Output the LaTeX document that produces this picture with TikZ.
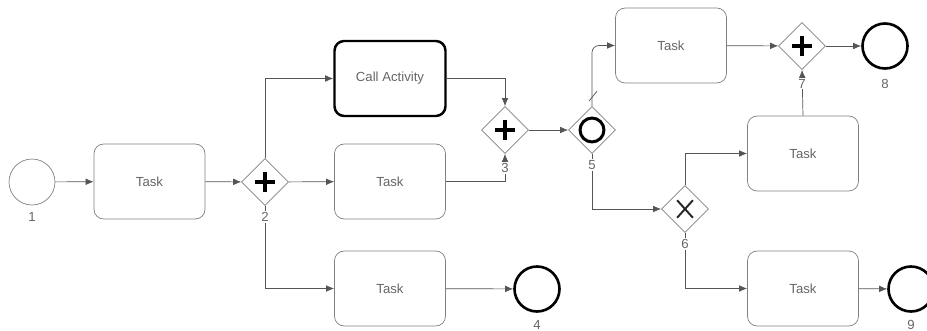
\documentclass[tikz,border=0pt]{standalone}
\usepackage{fontspec}
\setmainfont{Liberation Sans}
\usetikzlibrary{shapes.geometric,arrows.meta,positioning,calc}

\definecolor{edgegray}{HTML}{808080}
\definecolor{linegray}{HTML}{555555}
\definecolor{textgray}{HTML}{666666}

\tikzset{
  task/.style={draw=edgegray, rounded corners=5.5pt, minimum width=2.22cm,
    minimum height=1.5cm, text=textgray, font=\fontsize{7.5}{9}\selectfont},
  callact/.style={task, draw=black, line width=1.4pt},
  startev/.style={circle, draw=edgegray, minimum size=0.92cm, inner sep=0pt},
  endev/.style={startev, draw=black, line width=1.5pt, minimum size=0.9cm},
  gw/.style={diamond, draw=edgegray, minimum size=0.94cm, inner sep=0pt},
  gwplus/.style={gw, path picture={
    \draw[black, line width=2.4pt] ($(path picture bounding box.center)+(-5.6pt,0)$) -- ++(11.2pt,0);
    \draw[black, line width=2.4pt] ($(path picture bounding box.center)+(0,-5.6pt)$) -- ++(0,11.2pt);}},
  gwring/.style={gw, path picture={
    \draw[black, line width=1.7pt] (path picture bounding box.center) circle (6.8pt);}},
  gwcross/.style={gw, path picture={
    \draw[black!85, line width=1.1pt] ($(path picture bounding box.center)+(-4.5pt,-5pt)$) -- ++(9pt,10pt);
    \draw[black!85, line width=1.1pt] ($(path picture bounding box.center)+(-4.5pt,5pt)$) -- ++(9pt,-10pt);}},
  flow/.style={draw=linegray, -{Latex[length=4.6pt,width=3.8pt]}},
  num/.style={fill=white, inner sep=0.6pt, text=textgray, font=\fontsize{7.5}{9}\selectfont}
}

\begin{document}
\begin{tikzpicture}[x=0.02cm, y=-0.02cm]
\useasboundingbox (0,0) rectangle (927,331);

% events, tasks and gateways
\node[startev] (e1) at (32,182) {};
\node[task] (t1) at (149.5,181.5) {Task};
\node[gwplus] (g2) at (265,182) {};
\node[callact] (ca) at (390,78.5) {Call Activity};
\node[task] (t2) at (390,181.5) {Task};
\node[task] (t3) at (390,288.5) {Task};
\node[endev] (e4) at (537,289) {};
\node[gwplus] (g3) at (505,130) {};
\node[gwring] (g5) at (592,130) {};
\node[task] (t4) at (671,45.5) {Task};
\node[gwcross] (g6) at (685,209) {};
\node[task] (t5) at (803,153.5) {Task};
\node[gwplus] (g7) at (802,46) {};
\node[endev] (e8) at (885,46) {};
\node[task] (t6) at (803,288.5) {Task};
\node[endev] (e9) at (911,289) {};

% sequence flows
\path[flow] (e1) -- (t1);
\path[flow] (t1) -- (g2);
\path[flow] (g2) -- (t2);
\path[flow] (g2.north) |- (ca.west);
\path[flow] (g2.south) |- (t3.west);
\path[flow] (t3) -- (e4);
\path[flow] (ca.east) -| (g3.north);
\path[flow] (t2.east) -| (g3.south);
\path[flow] (g3) -- (g5);
\path[flow, rounded corners=4pt] (g5.north) |- (t4.west);
\draw[linegray] ($(g5.north)+(-3,-5)$) -- ($(g5.north)+(5,-15)$);
\path[flow] (g5.south) |- (g6.west);
\path[flow] (g6.north) |- (t5.west);
\path[flow] (g6.south) |- (t6.west);
\path[flow] (t6) -- (e9);
\path[flow] (t4) -- (g7);
\path[flow] (t5.north) -- (g7.south);
\path[flow] (g7) -- (e8);

% numbers
\node[num, below=3.5pt of e1] (n1) {1};
\node[num, below=3pt of g2] (n2) {2};
\node[num, below=4.6pt of g3] (n3) {3};
\node[num, below=3.5pt of e4] (n4) {4};
\node[num, below=3pt of g5] (n5) {5};
\node[num, below=3pt of g6] (n6) {6};
\node[num, below=4.6pt of g7] (n7) {7};
\node[num, below=4.5pt of e8] (n8) {8};
\node[num, below=3.5pt of e9] (n9) {9};
\end{tikzpicture}
\end{document}
